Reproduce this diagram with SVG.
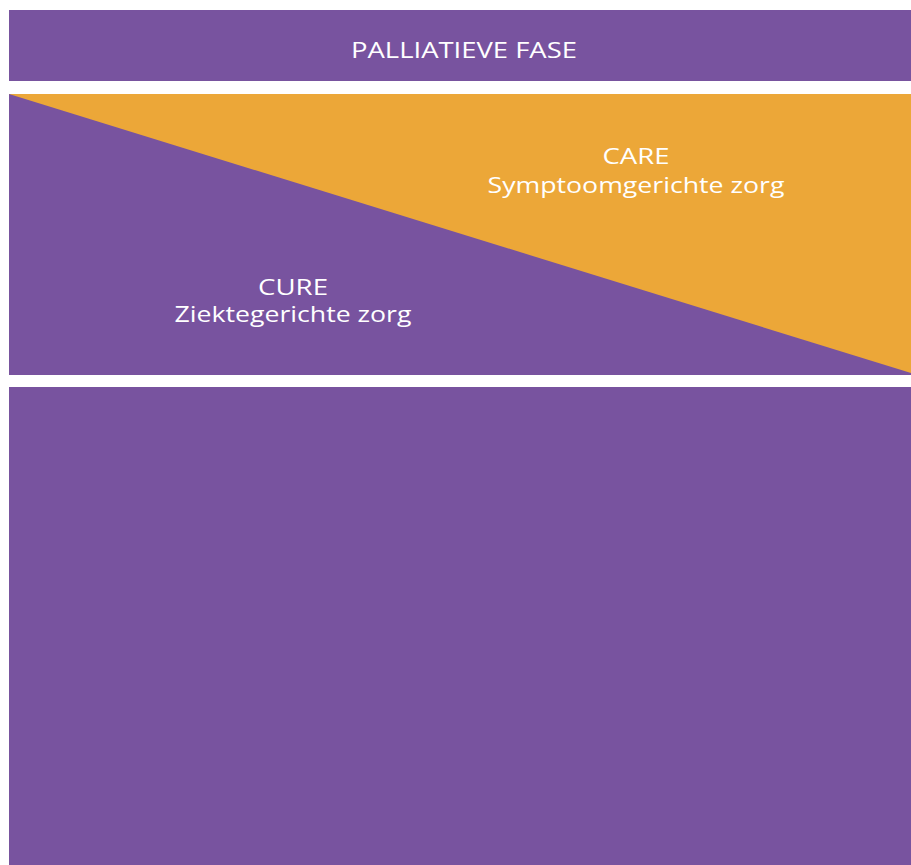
<svg xmlns="http://www.w3.org/2000/svg" width="911" height="865" viewBox="0 0 911 865">
<style>
.p{fill:#78539f}
.o{fill:#eca738}
text{font-family:"Open Sans","Liberation Sans",sans-serif;font-size:21px;fill:#ffffff;text-anchor:middle}
</style>
<rect width="911" height="865" fill="#ffffff"/>
<g id="palliatieve-fase">
<rect class="p" x="9" y="10" width="902" height="71"/>
<text x="464" y="58" textLength="226" lengthAdjust="spacingAndGlyphs">PALLIATIEVE FASE</text>
</g>
<g id="care-cure">
<rect class="o" x="9" y="94" width="902" height="281"/>
<polygon class="p" points="9,94 911,373 911,375 9,375"/>
</g>
<g id="care">
<text x="636" y="164" textLength="67" lengthAdjust="spacingAndGlyphs">CARE</text>
<text x="636" y="193" textLength="297" lengthAdjust="spacingAndGlyphs">Symptoomgerichte zorg</text>
</g>
<g id="cure">
<text x="293" y="295" textLength="70" lengthAdjust="spacingAndGlyphs">CURE</text>
<text x="293" y="322" textLength="237" lengthAdjust="spacingAndGlyphs">Ziektegerichte zorg</text>
</g>
<g id="bottom">
<rect class="p" x="9" y="387" width="902" height="478"/>
</g>
<g id="connectors"/>
</svg>
